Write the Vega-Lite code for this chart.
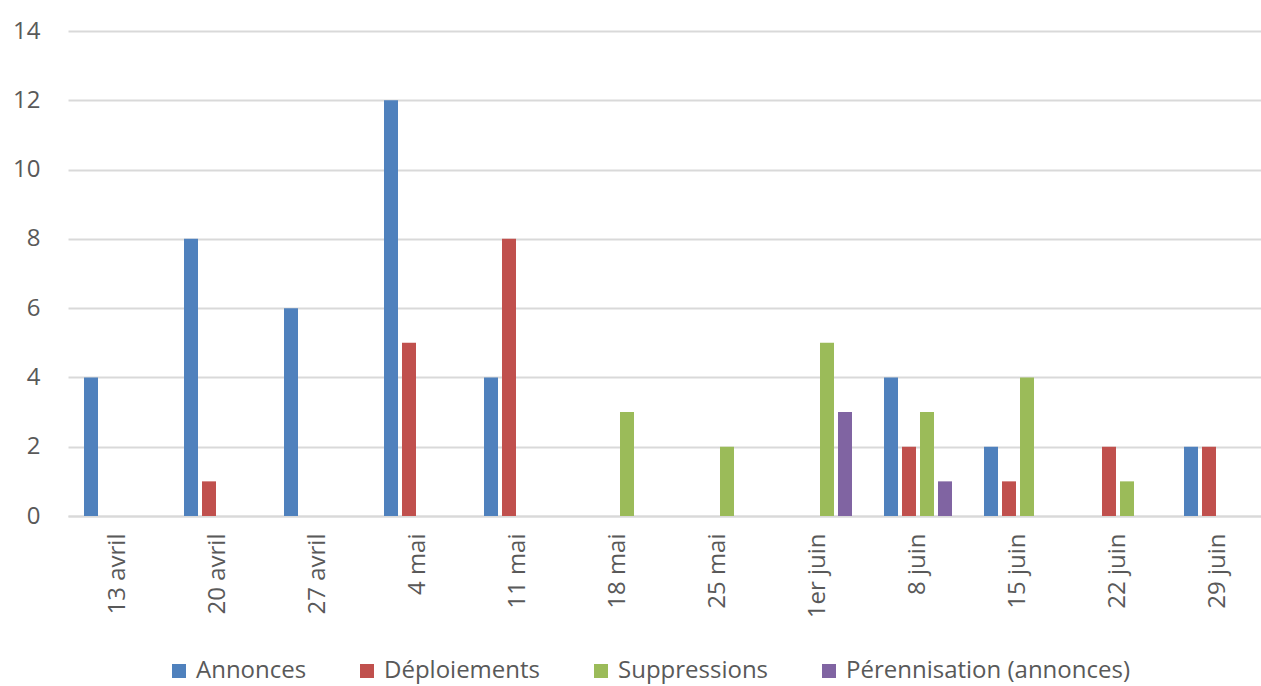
{
  "$schema": "https://vega.github.io/schema/vega-lite/v6.json",
  "width": 1200,
  "height": 485,
  "autosize": {"type": "none"},
  "padding": {"left": 68, "top": 31, "right": 0, "bottom": 170},
  "background": "white",
  "config": {
    "view": {"stroke": null},
    "font": "Open Sans"
  },
  "data": {
    "values": [
      {"semaine": "13 avril", "serie": "Annonces", "n": 4},
      {"semaine": "20 avril", "serie": "Annonces", "n": 8},
      {"semaine": "20 avril", "serie": "Déploiements", "n": 1},
      {"semaine": "27 avril", "serie": "Annonces", "n": 6},
      {"semaine": "4 mai", "serie": "Annonces", "n": 12},
      {"semaine": "4 mai", "serie": "Déploiements", "n": 5},
      {"semaine": "11 mai", "serie": "Annonces", "n": 4},
      {"semaine": "11 mai", "serie": "Déploiements", "n": 8},
      {"semaine": "18 mai", "serie": "Suppressions", "n": 3},
      {"semaine": "25 mai", "serie": "Suppressions", "n": 2},
      {"semaine": "1er juin", "serie": "Suppressions", "n": 5},
      {"semaine": "1er juin", "serie": "Pérennisation (annonces)", "n": 3},
      {"semaine": "8 juin", "serie": "Annonces", "n": 4},
      {"semaine": "8 juin", "serie": "Déploiements", "n": 2},
      {"semaine": "8 juin", "serie": "Suppressions", "n": 3},
      {"semaine": "8 juin", "serie": "Pérennisation (annonces)", "n": 1},
      {"semaine": "15 juin", "serie": "Annonces", "n": 2},
      {"semaine": "15 juin", "serie": "Déploiements", "n": 1},
      {"semaine": "15 juin", "serie": "Suppressions", "n": 4},
      {"semaine": "22 juin", "serie": "Déploiements", "n": 2},
      {"semaine": "22 juin", "serie": "Suppressions", "n": 1},
      {"semaine": "29 juin", "serie": "Annonces", "n": 2},
      {"semaine": "29 juin", "serie": "Déploiements", "n": 2}
    ]
  },
  "mark": {"type": "bar"},
  "encoding": {
    "x": {
      "field": "semaine",
      "type": "nominal",
      "sort": ["13 avril", "20 avril", "27 avril", "4 mai", "11 mai", "18 mai", "25 mai", "1er juin", "8 juin", "15 juin", "22 juin", "29 juin"],
      "scale": {
        "domain": ["13 avril", "20 avril", "27 avril", "4 mai", "11 mai", "18 mai", "25 mai", "1er juin", "8 juin", "15 juin", "22 juin", "29 juin"],
        "paddingInner": 0.28,
        "paddingOuter": 0.14
      },
      "axis": {
        "title": null,
        "labelAngle": -90,
        "labelAlign": "right",
        "labelBaseline": "middle",
        "labelFontSize": 24,
        "labelColor": "#595959",
        "labelPadding": 17,
        "ticks": false,
        "domainColor": "#d9d9d9",
        "domainWidth": 2,
        "grid": false
      }
    },
    "xOffset": {
      "field": "serie",
      "type": "nominal",
      "scale": {
        "domain": ["Annonces", "Déploiements", "Suppressions", "Pérennisation (annonces)"],
        "paddingInner": 0.222,
        "paddingOuter": 0.111
      }
    },
    "y": {
      "field": "n",
      "type": "quantitative",
      "scale": {"domain": [0, 14]},
      "axis": {
        "title": null,
        "values": [0, 2, 4, 6, 8, 10, 12, 14],
        "labelFontSize": 24,
        "labelColor": "#595959",
        "labelPadding": 28,
        "ticks": false,
        "domain": false,
        "gridColor": "#d9d9d9",
        "gridWidth": 2
      }
    },
    "color": {
      "field": "serie",
      "type": "nominal",
      "scale": {
        "domain": ["Annonces", "Déploiements", "Suppressions", "Pérennisation (annonces)"],
        "range": ["#4F81BD", "#C0504D", "#9BBB59", "#8064A2"]
      },
      "legend": {
        "title": null,
        "orient": "none",
        "legendX": 99,
        "legendY": 628,
        "direction": "horizontal",
        "symbolType": "square",
        "symbolSize": 196,
        "symbolStrokeWidth": 0,
        "symbolOpacity": 1,
        "labelFontSize": 24,
        "labelColor": "#595959",
        "labelLimit": 0,
        "labelOffset": 5,
        "columnPadding": 48,
        "padding": 0
      }
    }
  }
}
